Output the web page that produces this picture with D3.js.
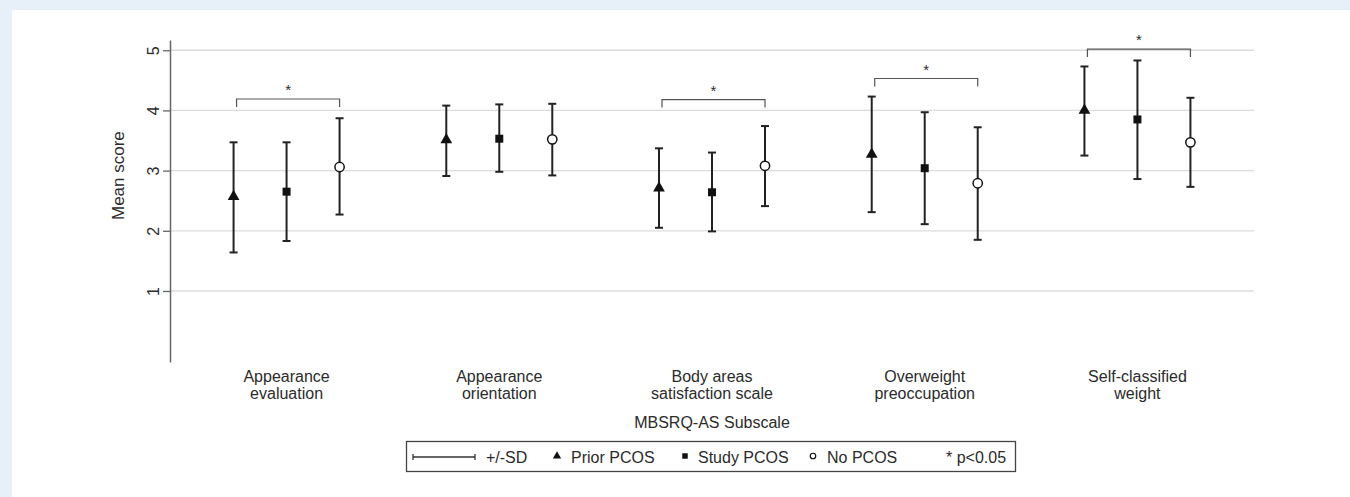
<!DOCTYPE html>
<meta charset="utf-8">
<style>
  body { margin: 0; background: #e7eff9; }
  svg { display: block; }
  text { font-family: "Liberation Sans", Arial, sans-serif; fill: #2b2b2b; }
  .grid line { stroke: #dcdcdc; stroke-width: 1.3px; }
  .bar { stroke: #222; stroke-width: 2px; }
  .bracket { fill: none; stroke: #555; stroke-width: 1.2px; }
</style>
<body>
<svg width="1350" height="497"></svg>
<script src="https://d3js.org/d3.v7.min.js"></script>
<script>
// Subscales (x categories), two lines each
const categories = [
  ['Appearance', 'evaluation'],
  ['Appearance', 'orientation'],
  ['Body areas', 'satisfaction scale'],
  ['Overweight', 'preoccupation'],
  ['Self-classified', 'weight']
];
const series = ['Prior PCOS', 'Study PCOS', 'No PCOS'];

// Means and +/-SD limits, one entry per subscale
const priorMean = [2.57, 3.51, 2.71, 3.27, 4.00];
const priorLow  = [1.64, 2.91, 2.05, 2.31, 3.25];
const priorHigh = [3.47, 4.08, 3.37, 4.23, 4.73];

const studyMean = [2.65, 3.53, 2.64, 3.04, 3.85];
const studyLow  = [1.83, 2.98, 1.99, 2.11, 2.86];
const studyHigh = [3.47, 4.10, 3.30, 3.97, 4.83];

const noMean = [3.06, 3.52, 3.08, 2.79, 3.47];
const noLow  = [2.27, 2.92, 2.41, 1.85, 2.73];
const noHigh = [3.87, 4.11, 3.74, 3.72, 4.21];

// significance brackets (subscale index, bracket height in score units)
const sigIndex  = [0, 2, 3, 4];
const sigHeight = [4.19, 4.18, 4.53, 5.02];

const yTicks = [1, 2, 3, 4, 5];

const svg = d3.select('svg');

// white panel
svg.append('rect')
  .attr('x', 12).attr('y', 10)
  .attr('width', 1338).attr('height', 487)
  .attr('fill', '#fff');

const catKeys = categories.map(d => d.join(' '));
const x0 = d3.scalePoint().domain(catKeys).range([170, 1254]).padding(0.548);
const x1 = d3.scalePoint().domain(series).range([-53, 53]);
const y = d3.scaleLinear().domain([-0.18, 5.17]).range([362, 40]);

// gridlines
svg.append('g').attr('class', 'grid')
  .selectAll('line').data(yTicks).enter().append('line')
  .attr('x1', 170).attr('x2', 1254)
  .attr('y1', d => y(d)).attr('y2', d => y(d));

// y axis
const yAxis = svg.append('g')
  .attr('transform', 'translate(170,0)')
  .call(d3.axisLeft(y).tickValues(yTicks).tickFormat(d3.format('d')).tickSize(7).tickSizeOuter(0));
yAxis.select('.domain').attr('stroke', '#666').attr('stroke-width', 1.5);
yAxis.selectAll('.tick line').attr('stroke', '#666').attr('stroke-width', 1.3);
yAxis.selectAll('.tick text')
  .attr('font-size', 16)
  .attr('fill', '#2b2b2b')
  .attr('text-anchor', 'middle')
  .attr('x', null).attr('dy', null)
  .attr('transform', 'translate(-17,0) rotate(-90)')
  .attr('dy', '0.35em');

svg.append('text')
  .attr('transform', `translate(124,${(y(5) + y(1)) / 2 + 5}) rotate(-90)`)
  .attr('text-anchor', 'middle')
  .attr('font-size', 17)
  .text('Mean score');

// points table
const groups = [
  { name: 'Prior PCOS', mean: priorMean, low: priorLow, high: priorHigh },
  { name: 'Study PCOS', mean: studyMean, low: studyLow, high: studyHigh },
  { name: 'No PCOS', mean: noMean, low: noLow, high: noHigh }
];
const points = [];
groups.forEach(g => {
  catKeys.forEach((c, i) => {
    points.push({ cat: c, series: g.name, mean: g.mean[i], low: g.low[i], high: g.high[i] });
  });
});
const px = d => x0(d.cat) + x1(d.series);

const pg = svg.append('g');
// error bars
pg.selectAll('.bar').data(points).enter().append('line')
  .attr('class', 'bar')
  .attr('x1', px).attr('x2', px)
  .attr('y1', d => y(d.low)).attr('y2', d => y(d.high));
pg.selectAll('.capHi').data(points).enter().append('line')
  .attr('class', 'bar')
  .attr('x1', d => px(d) - 4).attr('x2', d => px(d) + 4)
  .attr('y1', d => y(d.high)).attr('y2', d => y(d.high));
pg.selectAll('.capLo').data(points).enter().append('line')
  .attr('class', 'bar')
  .attr('x1', d => px(d) - 4).attr('x2', d => px(d) + 4)
  .attr('y1', d => y(d.low)).attr('y2', d => y(d.low));

// markers
const symbolOf = {
  'Prior PCOS': d3.symbol().type(d3.symbolTriangle).size(60),
  'Study PCOS': d3.symbol().type(d3.symbolSquare).size(64),
  'No PCOS': d3.symbol().type(d3.symbolCircle).size(68)
};
pg.selectAll('.pt').data(points).enter().append('path')
  .attr('d', d => symbolOf[d.series]())
  .attr('transform', d => `translate(${px(d)},${y(d.mean)})`)
  .attr('fill', d => d.series === 'No PCOS' ? '#fff' : '#111')
  .attr('stroke', '#111')
  .attr('stroke-width', d => d.series === 'No PCOS' ? 1.5 : 0);

// significance brackets
sigIndex.forEach((ci, k) => {
  const c = catKeys[ci];
  const xl = x0(c) + x1('Prior PCOS') + 3;
  const xr = x0(c) + x1('No PCOS');
  const yy = y(sigHeight[k]);
  svg.append('path').attr('class', 'bracket')
    .attr('d', `M${xl},${yy + 8}V${yy}H${xr}V${yy + 8}`);
  svg.append('text')
    .attr('x', (xl + xr) / 2).attr('y', yy - 4)
    .attr('text-anchor', 'middle')
    .attr('font-size', 15)
    .text('*');
});

// category labels
const cl = svg.append('g').selectAll('text').data(categories).enter().append('text')
  .attr('text-anchor', 'middle')
  .attr('font-size', 16);
cl.append('tspan')
  .attr('x', (d, i) => x0(catKeys[i])).attr('y', 382)
  .text(d => d[0]);
cl.append('tspan')
  .attr('x', (d, i) => x0(catKeys[i])).attr('y', 399)
  .text(d => d[1]);

svg.append('text')
  .attr('x', x0(catKeys[2])).attr('y', 428)
  .attr('text-anchor', 'middle')
  .attr('font-size', 16)
  .text('MBSRQ-AS Subscale');

// legend
const lg = svg.append('g');
lg.append('rect')
  .attr('x', 406.5).attr('y', 441.5).attr('width', 609).attr('height', 30)
  .attr('fill', '#fff').attr('stroke', '#444').attr('stroke-width', 1.3);
const ly = 457;
lg.append('path')
  .attr('d', `M413,${ly}H475M413,${ly - 3}V${ly + 3}M475,${ly - 3}V${ly + 3}`)
  .attr('stroke', '#333').attr('stroke-width', 1.3).attr('fill', 'none');
const legendItems = [
  { x: 486, label: '+/-SD' },
  { x: 557, sym: 'Prior PCOS' },
  { x: 571, label: 'Prior PCOS' },
  { x: 685, sym: 'Study PCOS' },
  { x: 698, label: 'Study PCOS' },
  { x: 813, sym: 'No PCOS' },
  { x: 827, label: 'No PCOS' },
  { x: 946, label: '* p<0.05' }
];
const legendSym = {
  'Prior PCOS': d3.symbol().type(d3.symbolTriangle).size(30),
  'Study PCOS': d3.symbol().type(d3.symbolSquare).size(30),
  'No PCOS': d3.symbol().type(d3.symbolCircle).size(24)
};
legendItems.forEach(it => {
  if (it.label) {
    lg.append('text').attr('x', it.x).attr('y', ly + 6)
      .attr('font-size', 16).text(it.label);
  } else {
    lg.append('path')
      .attr('d', legendSym[it.sym]())
      .attr('transform', `translate(${it.x},${ly - 1})`)
      .attr('fill', it.sym === 'No PCOS' ? '#fff' : '#111')
      .attr('stroke', '#111')
      .attr('stroke-width', it.sym === 'No PCOS' ? 1.2 : 0);
  }
});
</script>
</body>
